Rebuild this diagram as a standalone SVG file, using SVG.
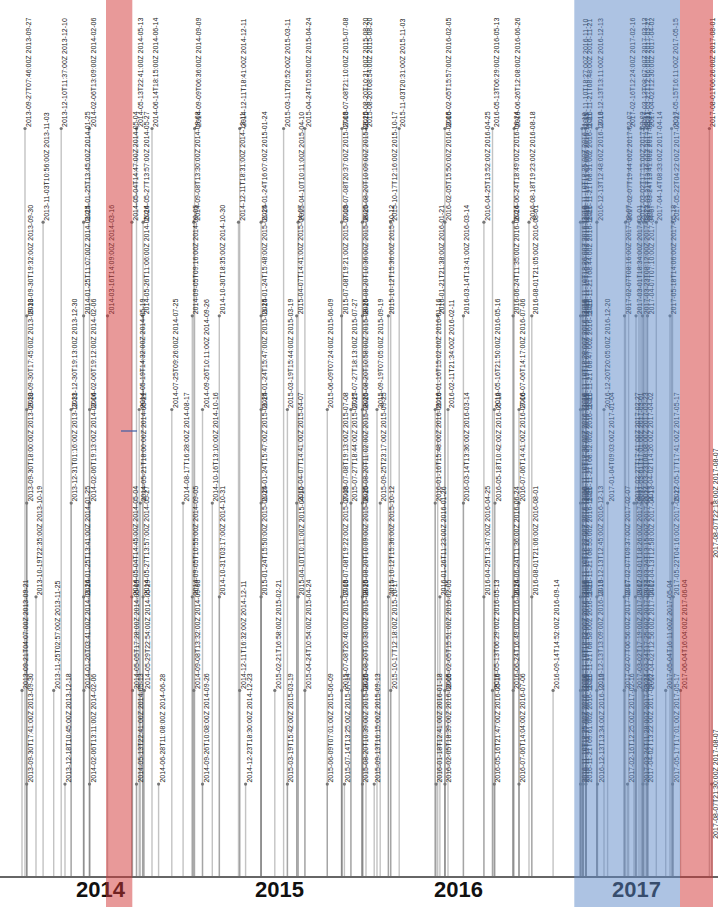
<svg xmlns="http://www.w3.org/2000/svg" width="718" height="907" viewBox="0 0 718 907">
<style>
.c line{stroke:#888;stroke-opacity:.5;stroke-width:1.4}
.n circle{fill:#777}
.n text{font-family:"Liberation Sans",Arial,sans-serif;font-size:7px;fill:#222}
.n text.mid{text-anchor:middle}
.yr{font-family:"Liberation Sans",Arial,sans-serif;font-size:22px;font-weight:bold;fill:#111}
</style>
<rect width="718" height="907" fill="#fff"/>
<g id="connectors" class="c">
<line x1="25" y1="128.5" x2="25" y2="877"/><line x1="61.2" y1="128.5" x2="61.2" y2="877"/><line x1="89.5" y1="128.5" x2="89.5" y2="877"/><line x1="136.5" y1="128.5" x2="136.5" y2="877"/><line x1="152" y1="128.5" x2="152" y2="877"/><line x1="194.6" y1="128.5" x2="194.6" y2="877"/><line x1="239.7" y1="128.5" x2="239.7" y2="877"/><line x1="283.6" y1="128.5" x2="283.6" y2="877"/><line x1="304.9" y1="128.5" x2="304.9" y2="877"/><line x1="341.7" y1="128.5" x2="341.7" y2="877"/><line x1="362.4" y1="128.5" x2="362.4" y2="877"/><line x1="366" y1="128.5" x2="366" y2="877"/><line x1="399.2" y1="128.5" x2="399.2" y2="877"/><line x1="444.9" y1="128.5" x2="444.9" y2="877"/><line x1="492.5" y1="128.5" x2="492.5" y2="877"/><line x1="514.1" y1="128.5" x2="514.1" y2="877"/><line x1="582" y1="128.5" x2="582" y2="877"/><line x1="585.5" y1="128.5" x2="585.5" y2="877"/><line x1="596.9" y1="128.5" x2="596.9" y2="877"/><line x1="628.6" y1="128.5" x2="628.6" y2="877"/><line x1="641" y1="128.5" x2="641" y2="877"/><line x1="644" y1="128.5" x2="644" y2="877"/><line x1="647.5" y1="128.5" x2="647.5" y2="877"/><line x1="671.6" y1="128.5" x2="671.6" y2="877"/><line x1="709.4" y1="128.5" x2="709.4" y2="877"/>
<line x1="43.1" y1="222.2" x2="43.1" y2="877"/><line x1="83.6" y1="222.2" x2="83.6" y2="877"/><line x1="131.9" y1="222.2" x2="131.9" y2="877"/><line x1="143.1" y1="222.2" x2="143.1" y2="877"/><line x1="193.8" y1="222.2" x2="193.8" y2="877"/><line x1="238.5" y1="222.2" x2="238.5" y2="877"/><line x1="261.1" y1="222.2" x2="261.1" y2="877"/><line x1="298.1" y1="222.2" x2="298.1" y2="877"/><line x1="341.7" y1="222.2" x2="341.7" y2="877"/><line x1="362.4" y1="222.2" x2="362.4" y2="877"/><line x1="390.7" y1="222.2" x2="390.7" y2="877"/><line x1="444.9" y1="222.2" x2="444.9" y2="877"/><line x1="483.9" y1="222.2" x2="483.9" y2="877"/><line x1="513.2" y1="222.2" x2="513.2" y2="877"/><line x1="529" y1="222.2" x2="529" y2="877"/><line x1="580.5" y1="222.2" x2="580.5" y2="877"/><line x1="583" y1="222.2" x2="583" y2="877"/><line x1="586" y1="222.2" x2="586" y2="877"/><line x1="596.9" y1="222.2" x2="596.9" y2="877"/><line x1="625.5" y1="222.2" x2="625.5" y2="877"/><line x1="639" y1="222.2" x2="639" y2="877"/><line x1="643.5" y1="222.2" x2="643.5" y2="877"/><line x1="646" y1="222.2" x2="646" y2="877"/><line x1="656.3" y1="222.2" x2="656.3" y2="877"/><line x1="672.5" y1="222.2" x2="672.5" y2="877"/>
<line x1="26.7" y1="315.8" x2="26.7" y2="877"/><line x1="83.6" y1="315.8" x2="83.6" y2="877"/><line x1="107.5" y1="315.8" x2="107.5" y2="877"/><line x1="142.6" y1="315.8" x2="142.6" y2="877"/><line x1="192.3" y1="315.8" x2="192.3" y2="877"/><line x1="219.3" y1="315.8" x2="219.3" y2="877"/><line x1="261.1" y1="315.8" x2="261.1" y2="877"/><line x1="296.7" y1="315.8" x2="296.7" y2="877"/><line x1="341.6" y1="315.8" x2="341.6" y2="877"/><line x1="362.4" y1="315.8" x2="362.4" y2="877"/><line x1="388.4" y1="315.8" x2="388.4" y2="877"/><line x1="437.7" y1="315.8" x2="437.7" y2="877"/><line x1="463.4" y1="315.8" x2="463.4" y2="877"/><line x1="513.1" y1="315.8" x2="513.1" y2="877"/><line x1="531.8" y1="315.8" x2="531.8" y2="877"/><line x1="580.5" y1="315.8" x2="580.5" y2="877"/><line x1="583" y1="315.8" x2="583" y2="877"/><line x1="586" y1="315.8" x2="586" y2="877"/><line x1="624.5" y1="315.8" x2="624.5" y2="877"/><line x1="636" y1="315.8" x2="636" y2="877"/><line x1="642.5" y1="315.8" x2="642.5" y2="877"/><line x1="647.5" y1="315.8" x2="647.5" y2="877"/><line x1="670" y1="315.8" x2="670" y2="877"/>
<line x1="26.7" y1="409.5" x2="26.7" y2="877"/><line x1="71.1" y1="409.5" x2="71.1" y2="877"/><line x1="89.6" y1="409.5" x2="89.6" y2="877"/><line x1="139.2" y1="409.5" x2="139.2" y2="877"/><line x1="171.8" y1="409.5" x2="171.8" y2="877"/><line x1="202.5" y1="409.5" x2="202.5" y2="877"/><line x1="261.1" y1="409.5" x2="261.1" y2="877"/><line x1="287.4" y1="409.5" x2="287.4" y2="877"/><line x1="327.3" y1="409.5" x2="327.3" y2="877"/><line x1="350.9" y1="409.5" x2="350.9" y2="877"/><line x1="362.4" y1="409.5" x2="362.4" y2="877"/><line x1="377" y1="409.5" x2="377" y2="877"/><line x1="435.2" y1="409.5" x2="435.2" y2="877"/><line x1="448" y1="409.5" x2="448" y2="877"/><line x1="494.3" y1="409.5" x2="494.3" y2="877"/><line x1="519" y1="409.5" x2="519" y2="877"/><line x1="580.5" y1="409.5" x2="580.5" y2="877"/><line x1="583" y1="409.5" x2="583" y2="877"/><line x1="586" y1="409.5" x2="586" y2="877"/><line x1="604" y1="409.5" x2="604" y2="877"/>
<line x1="26.7" y1="503.1" x2="26.7" y2="877"/><line x1="71.2" y1="503.1" x2="71.2" y2="877"/><line x1="89.6" y1="503.1" x2="89.6" y2="877"/><line x1="140.3" y1="503.1" x2="140.3" y2="877"/><line x1="183.1" y1="503.1" x2="183.1" y2="877"/><line x1="212.3" y1="503.1" x2="212.3" y2="877"/><line x1="261.1" y1="503.1" x2="261.1" y2="877"/><line x1="296.7" y1="503.1" x2="296.7" y2="877"/><line x1="341.6" y1="503.1" x2="341.6" y2="877"/><line x1="350.9" y1="503.1" x2="350.9" y2="877"/><line x1="362.4" y1="503.1" x2="362.4" y2="877"/><line x1="380.2" y1="503.1" x2="380.2" y2="877"/><line x1="435.2" y1="503.1" x2="435.2" y2="877"/><line x1="463.4" y1="503.1" x2="463.4" y2="877"/><line x1="495" y1="503.1" x2="495" y2="877"/><line x1="519" y1="503.1" x2="519" y2="877"/><line x1="580.5" y1="503.1" x2="580.5" y2="877"/><line x1="583" y1="503.1" x2="583" y2="877"/><line x1="586" y1="503.1" x2="586" y2="877"/><line x1="607.6" y1="503.1" x2="607.6" y2="877"/><line x1="634" y1="503.1" x2="634" y2="877"/><line x1="636.5" y1="503.1" x2="636.5" y2="877"/><line x1="642" y1="503.1" x2="642" y2="877"/><line x1="647" y1="503.1" x2="647" y2="877"/><line x1="672.6" y1="503.1" x2="672.6" y2="877"/><line x1="712" y1="503.1" x2="712" y2="877"/>
<line x1="36" y1="596.8" x2="36" y2="877"/><line x1="83.6" y1="596.8" x2="83.6" y2="877"/><line x1="131.9" y1="596.8" x2="131.9" y2="877"/><line x1="143.1" y1="596.8" x2="143.1" y2="877"/><line x1="192.3" y1="596.8" x2="192.3" y2="877"/><line x1="219.4" y1="596.8" x2="219.4" y2="877"/><line x1="261.1" y1="596.8" x2="261.1" y2="877"/><line x1="298.1" y1="596.8" x2="298.1" y2="877"/><line x1="341.6" y1="596.8" x2="341.6" y2="877"/><line x1="362.4" y1="596.8" x2="362.4" y2="877"/><line x1="388.4" y1="596.8" x2="388.4" y2="877"/><line x1="439.9" y1="596.8" x2="439.9" y2="877"/><line x1="483.9" y1="596.8" x2="483.9" y2="877"/><line x1="513.1" y1="596.8" x2="513.1" y2="877"/><line x1="531.8" y1="596.8" x2="531.8" y2="877"/><line x1="580.5" y1="596.8" x2="580.5" y2="877"/><line x1="583" y1="596.8" x2="583" y2="877"/><line x1="586" y1="596.8" x2="586" y2="877"/><line x1="596.9" y1="596.8" x2="596.9" y2="877"/><line x1="624.2" y1="596.8" x2="624.2" y2="877"/><line x1="635.5" y1="596.8" x2="635.5" y2="877"/><line x1="643" y1="596.8" x2="643" y2="877"/><line x1="648" y1="596.8" x2="648" y2="877"/><line x1="673.3" y1="596.8" x2="673.3" y2="877"/>
<line x1="22" y1="690.4" x2="22" y2="877"/><line x1="53.7" y1="690.4" x2="53.7" y2="877"/><line x1="83.9" y1="690.4" x2="83.9" y2="877"/><line x1="132.5" y1="690.4" x2="132.5" y2="877"/><line x1="144.3" y1="690.4" x2="144.3" y2="877"/><line x1="193.8" y1="690.4" x2="193.8" y2="877"/><line x1="239.7" y1="690.4" x2="239.7" y2="877"/><line x1="274.8" y1="690.4" x2="274.8" y2="877"/><line x1="304.9" y1="690.4" x2="304.9" y2="877"/><line x1="341.7" y1="690.4" x2="341.7" y2="877"/><line x1="362.4" y1="690.4" x2="362.4" y2="877"/><line x1="390.7" y1="690.4" x2="390.7" y2="877"/><line x1="444.9" y1="690.4" x2="444.9" y2="877"/><line x1="492.5" y1="690.4" x2="492.5" y2="877"/><line x1="513.2" y1="690.4" x2="513.2" y2="877"/><line x1="553.1" y1="690.4" x2="553.1" y2="877"/><line x1="580.5" y1="690.4" x2="580.5" y2="877"/><line x1="583" y1="690.4" x2="583" y2="877"/><line x1="586" y1="690.4" x2="586" y2="877"/><line x1="596.9" y1="690.4" x2="596.9" y2="877"/><line x1="624.2" y1="690.4" x2="624.2" y2="877"/><line x1="635.6" y1="690.4" x2="635.6" y2="877"/><line x1="643" y1="690.4" x2="643" y2="877"/><line x1="647.5" y1="690.4" x2="647.5" y2="877"/><line x1="665.7" y1="690.4" x2="665.7" y2="877"/><line x1="680.5" y1="690.4" x2="680.5" y2="877"/>
<line x1="26.7" y1="784.1" x2="26.7" y2="877"/><line x1="65" y1="784.1" x2="65" y2="877"/><line x1="89.5" y1="784.1" x2="89.5" y2="877"/><line x1="136.5" y1="784.1" x2="136.5" y2="877"/><line x1="158.6" y1="784.1" x2="158.6" y2="877"/><line x1="202.5" y1="784.1" x2="202.5" y2="877"/><line x1="245.6" y1="784.1" x2="245.6" y2="877"/><line x1="287.4" y1="784.1" x2="287.4" y2="877"/><line x1="327.3" y1="784.1" x2="327.3" y2="877"/><line x1="344.4" y1="784.1" x2="344.4" y2="877"/><line x1="362.4" y1="784.1" x2="362.4" y2="877"/><line x1="374.2" y1="784.1" x2="374.2" y2="877"/><line x1="436.1" y1="784.1" x2="436.1" y2="877"/><line x1="445" y1="784.1" x2="445" y2="877"/><line x1="494.3" y1="784.1" x2="494.3" y2="877"/><line x1="519" y1="784.1" x2="519" y2="877"/><line x1="580.5" y1="784.1" x2="580.5" y2="877"/><line x1="583" y1="784.1" x2="583" y2="877"/><line x1="586" y1="784.1" x2="586" y2="877"/><line x1="597.5" y1="784.1" x2="597.5" y2="877"/><line x1="627.5" y1="784.1" x2="627.5" y2="877"/><line x1="643" y1="784.1" x2="643" y2="877"/><line x1="647" y1="784.1" x2="647" y2="877"/><line x1="672.6" y1="784.1" x2="672.6" y2="877"/><line x1="711.7" y1="784.1" x2="711.7" y2="877"/>
</g>
<g class="n">
<g id="n0-1"><circle cx="25" cy="128.5" r="1.6"/><text transform="translate(31,127) rotate(-90)">2013-09-27T07:46:00Z 2013-09-27</text></g>
<g id="n0-2"><circle cx="61.2" cy="128.5" r="1.6"/><text transform="translate(67.2,127) rotate(-90)">2013-12-10T11:37:00Z 2013-12-10</text></g>
<g id="n0-3"><circle cx="89.5" cy="128.5" r="1.6"/><text transform="translate(95.5,127) rotate(-90)">2014-02-06T13:09:00Z 2014-02-06</text></g>
<g id="n0-4"><circle cx="136.5" cy="128.5" r="1.6"/><text transform="translate(142.5,127) rotate(-90)">2014-05-13T22:41:00Z 2014-05-13</text></g>
<g id="n0-5"><circle cx="152" cy="128.5" r="1.6"/><text transform="translate(158,127) rotate(-90)">2014-06-14T18:15:00Z 2014-06-14</text></g>
<g id="n0-6"><circle cx="194.6" cy="128.5" r="1.6"/><text transform="translate(200.6,127) rotate(-90)">2014-09-09T06:36:00Z 2014-09-09</text></g>
<g id="n0-7"><circle cx="239.7" cy="128.5" r="1.6"/><text transform="translate(245.7,127) rotate(-90)">2014-12-11T18:41:00Z 2014-12-11</text></g>
<g id="n0-8"><circle cx="283.6" cy="128.5" r="1.6"/><text transform="translate(289.6,127) rotate(-90)">2015-03-11T20:52:00Z 2015-03-11</text></g>
<g id="n0-9"><circle cx="304.9" cy="128.5" r="1.6"/><text transform="translate(310.9,127) rotate(-90)">2015-04-24T10:55:00Z 2015-04-24</text></g>
<g id="n0-10"><circle cx="341.7" cy="128.5" r="1.6"/><text transform="translate(347.7,127) rotate(-90)">2015-07-08T21:10:00Z 2015-07-08</text></g>
<g id="n0-11"><circle cx="362.4" cy="128.5" r="1.6"/><text transform="translate(368.4,127) rotate(-90)">2015-08-20T10:31:00Z 2015-08-20</text></g>
<g id="n0-12"><circle cx="366" cy="128.5" r="1.6"/><text transform="translate(372,127) rotate(-90)">2015-08-20T08:54:00Z 2015-08-20</text></g>
<g id="n0-13"><circle cx="399.2" cy="128.5" r="1.6"/><text transform="translate(405.2,127) rotate(-90)">2015-11-03T20:31:00Z 2015-11-03</text></g>
<g id="n0-14"><circle cx="444.9" cy="128.5" r="1.6"/><text transform="translate(450.9,127) rotate(-90)">2016-02-05T15:57:00Z 2016-02-05</text></g>
<g id="n0-15"><circle cx="492.5" cy="128.5" r="1.6"/><text transform="translate(498.5,127) rotate(-90)">2016-05-13T06:29:00Z 2016-05-13</text></g>
<g id="n0-16"><circle cx="514.1" cy="128.5" r="1.6"/><text transform="translate(520.1,127) rotate(-90)">2016-06-26T12:08:00Z 2016-06-26</text></g>
<g id="n0-17"><circle cx="582" cy="128.5" r="1.6"/><text transform="translate(588,127) rotate(-90)">2016-11-10T18:27:00Z 2016-11-10</text></g>
<g id="n0-18"><circle cx="585.5" cy="128.5" r="1.6"/><text transform="translate(591.5,127) rotate(-90)">2016-11-21T08:48:00Z 2016-11-21</text></g>
<g id="n0-19"><circle cx="596.9" cy="128.5" r="1.6"/><text transform="translate(602.9,127) rotate(-90)">2016-12-13T13:11:00Z 2016-12-13</text></g>
<g id="n0-20"><circle cx="628.6" cy="128.5" r="1.6"/><text transform="translate(634.6,127) rotate(-90)">2017-02-16T12:24:00Z 2017-02-16</text></g>
<g id="n0-21"><circle cx="641" cy="128.5" r="1.6"/><text transform="translate(647,127) rotate(-90)">2017-03-12T08:07:00Z 2017-03-12</text></g>
<g id="n0-22"><circle cx="644" cy="128.5" r="1.6"/><text transform="translate(650,127) rotate(-90)">2017-03-27T12:06:00Z 2017-03-27</text></g>
<g id="n0-23"><circle cx="647.5" cy="128.5" r="1.6"/><text transform="translate(653.5,127) rotate(-90)">2017-04-02T12:30:00Z 2017-04-02</text></g>
<g id="n0-24"><circle cx="671.6" cy="128.5" r="1.6"/><text transform="translate(677.6,127) rotate(-90)">2017-05-15T16:11:00Z 2017-05-15</text></g>
<g id="n0-25"><circle cx="709.4" cy="128.5" r="1.6"/><text transform="translate(715.4,127) rotate(-90)">2017-08-01T06:26:00Z 2017-08-01</text></g>

<g id="n1-1"><circle cx="43.1" cy="222.2" r="1.6"/><text transform="translate(49.1,220.7) rotate(-90)">2013-11-03T10:56:00Z 2013-11-03</text></g>
<g id="n1-2"><circle cx="83.6" cy="222.2" r="1.6"/><text transform="translate(89.6,220.7) rotate(-90)">2014-01-25T13:45:00Z 2014-01-25</text></g>
<g id="n1-3"><circle cx="131.9" cy="222.2" r="1.6"/><text transform="translate(137.9,220.7) rotate(-90)">2014-05-04T14:47:00Z 2014-05-04</text></g>
<g id="n1-4"><circle cx="143.1" cy="222.2" r="1.6"/><text transform="translate(149.1,220.7) rotate(-90)">2014-05-27T13:57:00Z 2014-05-27</text></g>
<g id="n1-5"><circle cx="193.8" cy="222.2" r="1.6"/><text transform="translate(199.8,220.7) rotate(-90)">2014-09-08T13:30:00Z 2014-09-08</text></g>
<g id="n1-6"><circle cx="238.5" cy="222.2" r="1.6"/><text transform="translate(244.5,220.7) rotate(-90)">2014-12-11T18:31:00Z 2014-12-11</text></g>
<g id="n1-7"><circle cx="261.1" cy="222.2" r="1.6"/><text transform="translate(267.1,220.7) rotate(-90)">2015-01-24T16:07:00Z 2015-01-24</text></g>
<g id="n1-8"><circle cx="298.1" cy="222.2" r="1.6"/><text transform="translate(304.1,220.7) rotate(-90)">2015-04-10T10:11:00Z 2015-04-10</text></g>
<g id="n1-9"><circle cx="341.7" cy="222.2" r="1.6"/><text transform="translate(347.7,220.7) rotate(-90)">2015-07-08T20:37:00Z 2015-07-08</text></g>
<g id="n1-10"><circle cx="362.4" cy="222.2" r="1.6"/><text transform="translate(368.4,220.7) rotate(-90)">2015-08-20T10:09:00Z 2015-08-20</text></g>
<g id="n1-11"><circle cx="390.7" cy="222.2" r="1.6"/><text transform="translate(396.7,220.7) rotate(-90)">2015-10-17T12:16:00Z 2015-10-17</text></g>
<g id="n1-12"><circle cx="444.9" cy="222.2" r="1.6"/><text transform="translate(450.9,220.7) rotate(-90)">2016-02-05T15:50:00Z 2016-02-05</text></g>
<g id="n1-13"><circle cx="483.9" cy="222.2" r="1.6"/><text transform="translate(489.9,220.7) rotate(-90)">2016-04-25T13:52:00Z 2016-04-25</text></g>
<g id="n1-14"><circle cx="513.2" cy="222.2" r="1.6"/><text transform="translate(519.2,220.7) rotate(-90)">2016-06-24T18:49:00Z 2016-06-24</text></g>
<g id="n1-15"><circle cx="529" cy="222.2" r="1.6"/><text transform="translate(535,220.7) rotate(-90)">2016-08-18T19:23:00Z 2016-08-18</text></g>
<g id="n1-16"><circle cx="580.5" cy="222.2" r="1.6"/><text transform="translate(586.5,220.7) rotate(-90)">2016-11-10T18:25:00Z 2016-11-10</text></g>
<g id="n1-17"><circle cx="583" cy="222.2" r="1.6"/><text transform="translate(589,220.7) rotate(-90)">2016-11-15T11:02:00Z 2016-11-15</text></g>
<g id="n1-18"><circle cx="586" cy="222.2" r="1.6"/><text transform="translate(592,220.7) rotate(-90)">2016-11-21T08:31:00Z 2016-11-21</text></g>
<g id="n1-19"><circle cx="596.9" cy="222.2" r="1.6"/><text transform="translate(602.9,220.7) rotate(-90)">2016-12-13T12:48:00Z 2016-12-13</text></g>
<g id="n1-20"><circle cx="625.5" cy="222.2" r="1.6"/><text transform="translate(631.5,220.7) rotate(-90)">2017-02-07T19:44:00Z 2017-02-07</text></g>
<g id="n1-21"><circle cx="639" cy="222.2" r="1.6"/><text transform="translate(645,220.7) rotate(-90)">2017-03-02T17:15:00Z 2017-03-02</text></g>
<g id="n1-22"><circle cx="643.5" cy="222.2" r="1.6"/><text transform="translate(649.5,220.7) rotate(-90)">2017-03-21T13:46:00Z 2017-03-21</text></g>
<g id="n1-23"><circle cx="646" cy="222.2" r="1.6"/><text transform="translate(652,220.7) rotate(-90)">2017-03-24T13:41:00Z 2017-03-24</text></g>
<g id="n1-24"><circle cx="656.3" cy="222.2" r="1.6"/><text transform="translate(662.3,220.7) rotate(-90)">2017-04-14T08:33:00Z 2017-04-14</text></g>
<g id="n1-25"><circle cx="672.5" cy="222.2" r="1.6"/><text transform="translate(678.5,220.7) rotate(-90)">2017-05-22T04:22:00Z 2017-05-22</text></g>

<g id="n2-1"><circle cx="26.7" cy="315.8" r="1.6"/><text transform="translate(32.7,314.3) rotate(-90)">2013-09-30T19:32:00Z 2013-09-30</text></g>
<g id="n2-2"><circle cx="83.6" cy="315.8" r="1.6"/><text transform="translate(89.6,314.3) rotate(-90)">2014-01-25T11:07:00Z 2014-01-25</text></g>
<g id="n2-3"><circle cx="107.5" cy="315.8" r="1.6"/><text transform="translate(113.5,314.3) rotate(-90)">2014-03-16T14:09:00Z 2014-03-16</text></g>
<g id="n2-4"><circle cx="142.6" cy="315.8" r="1.6"/><text transform="translate(148.6,314.3) rotate(-90)">2014-05-26T11:06:00Z 2014-05-26</text></g>
<g id="n2-5"><circle cx="192.3" cy="315.8" r="1.6"/><text transform="translate(198.3,314.3) rotate(-90)">2014-09-05T09:16:00Z 2014-09-05</text></g>
<g id="n2-6"><circle cx="219.3" cy="315.8" r="1.6"/><text transform="translate(225.3,314.3) rotate(-90)">2014-10-30T18:35:00Z 2014-10-30</text></g>
<g id="n2-7"><circle cx="261.1" cy="315.8" r="1.6"/><text transform="translate(267.1,314.3) rotate(-90)">2015-01-24T15:48:00Z 2015-01-24</text></g>
<g id="n2-8"><circle cx="296.7" cy="315.8" r="1.6"/><text transform="translate(302.7,314.3) rotate(-90)">2015-04-07T14:41:00Z 2015-04-07</text></g>
<g id="n2-9"><circle cx="341.6" cy="315.8" r="1.6"/><text transform="translate(347.6,314.3) rotate(-90)">2015-07-08T19:21:00Z 2015-07-08</text></g>
<g id="n2-10"><circle cx="362.4" cy="315.8" r="1.6"/><text transform="translate(368.4,314.3) rotate(-90)">2015-08-20T10:36:00Z 2015-08-20</text></g>
<g id="n2-11"><circle cx="388.4" cy="315.8" r="1.6"/><text transform="translate(394.4,314.3) rotate(-90)">2015-10-12T15:36:00Z 2015-10-12</text></g>
<g id="n2-12"><circle cx="437.7" cy="315.8" r="1.6"/><text transform="translate(443.7,314.3) rotate(-90)">2016-01-21T21:38:00Z 2016-01-21</text></g>
<g id="n2-13"><circle cx="463.4" cy="315.8" r="1.6"/><text transform="translate(469.4,314.3) rotate(-90)">2016-03-14T13:41:00Z 2016-03-14</text></g>
<g id="n2-14"><circle cx="513.1" cy="315.8" r="1.6"/><text transform="translate(519.1,314.3) rotate(-90)">2016-06-24T11:35:00Z 2016-06-24</text></g>
<g id="n2-15"><circle cx="531.8" cy="315.8" r="1.6"/><text transform="translate(537.8,314.3) rotate(-90)">2016-08-01T21:05:00Z 2016-08-01</text></g>
<g id="n2-16"><circle cx="580.5" cy="315.8" r="1.6"/><text transform="translate(586.5,314.3) rotate(-90)">2016-11-10T18:26:00Z 2016-11-10</text></g>
<g id="n2-17"><circle cx="583" cy="315.8" r="1.6"/><text transform="translate(589,314.3) rotate(-90)">2016-11-15T10:59:00Z 2016-11-15</text></g>
<g id="n2-18"><circle cx="586" cy="315.8" r="1.6"/><text transform="translate(592,314.3) rotate(-90)">2016-11-21T08:44:00Z 2016-11-21</text></g>
<g id="n2-19"><circle cx="624.5" cy="315.8" r="1.6"/><text transform="translate(630.5,314.3) rotate(-90)">2017-02-07T08:16:00Z 2017-02-07</text></g>
<g id="n2-20"><circle cx="636" cy="315.8" r="1.6"/><text transform="translate(642,314.3) rotate(-90)">2017-03-01T18:34:00Z 2017-03-01</text></g>
<g id="n2-21"><circle cx="642.5" cy="315.8" r="1.6"/><text transform="translate(648.5,314.3) rotate(-90)">2017-03-23T08:12:00Z 2017-03-23</text></g>
<g id="n2-22"><circle cx="647.5" cy="315.8" r="1.6"/><text transform="translate(653.5,314.3) rotate(-90)">2017-04-07T07:10:00Z 2017-04-07</text></g>
<g id="n2-23"><circle cx="670" cy="315.8" r="1.6"/><text transform="translate(676,314.3) rotate(-90)">2017-05-18T14:06:00Z 2017-05-18</text></g>

<g id="n3-1"><circle cx="26.7" cy="409.5" r="1.6"/><text transform="translate(32.7,408) rotate(-90)">2013-09-30T17:45:00Z 2013-09-30</text></g>
<g id="n3-2"><circle cx="71.1" cy="409.5" r="1.6"/><text transform="translate(77.1,408) rotate(-90)">2013-12-30T19:13:00Z 2013-12-30</text></g>
<g id="n3-3"><circle cx="89.6" cy="409.5" r="1.6"/><text transform="translate(95.6,408) rotate(-90)">2014-02-06T19:12:00Z 2014-02-06</text></g>
<g id="n3-4"><circle cx="139.2" cy="409.5" r="1.6"/><text transform="translate(145.2,408) rotate(-90)">2014-05-19T14:32:00Z 2014-05-19</text></g>
<g id="n3-5"><circle cx="171.8" cy="409.5" r="1.6"/><text transform="translate(177.8,408) rotate(-90)">2014-07-25T09:26:00Z 2014-07-25</text></g>
<g id="n3-6"><circle cx="202.5" cy="409.5" r="1.6"/><text transform="translate(208.5,408) rotate(-90)">2014-09-26T10:11:00Z 2014-09-26</text></g>
<g id="n3-7"><circle cx="261.1" cy="409.5" r="1.6"/><text transform="translate(267.1,408) rotate(-90)">2015-01-24T15:47:00Z 2015-01-24</text></g>
<g id="n3-8"><circle cx="287.4" cy="409.5" r="1.6"/><text transform="translate(293.4,408) rotate(-90)">2015-03-19T15:44:00Z 2015-03-19</text></g>
<g id="n3-9"><circle cx="327.3" cy="409.5" r="1.6"/><text transform="translate(333.3,408) rotate(-90)">2015-06-09T07:24:00Z 2015-06-09</text></g>
<g id="n3-10"><circle cx="350.9" cy="409.5" r="1.6"/><text transform="translate(356.9,408) rotate(-90)">2015-07-27T18:13:00Z 2015-07-27</text></g>
<g id="n3-11"><circle cx="362.4" cy="409.5" r="1.6"/><text transform="translate(368.4,408) rotate(-90)">2015-08-20T10:58:00Z 2015-08-20</text></g>
<g id="n3-12"><circle cx="377" cy="409.5" r="1.6"/><text transform="translate(383,408) rotate(-90)">2015-09-19T07:05:00Z 2015-09-19</text></g>
<g id="n3-13"><circle cx="435.2" cy="409.5" r="1.6"/><text transform="translate(441.2,408) rotate(-90)">2016-01-16T15:02:00Z 2016-01-16</text></g>
<g id="n3-14"><circle cx="448" cy="409.5" r="1.6"/><text transform="translate(454,408) rotate(-90)">2016-02-11T21:34:00Z 2016-02-11</text></g>
<g id="n3-15"><circle cx="494.3" cy="409.5" r="1.6"/><text transform="translate(500.3,408) rotate(-90)">2016-05-16T21:50:00Z 2016-05-16</text></g>
<g id="n3-16"><circle cx="519" cy="409.5" r="1.6"/><text transform="translate(525,408) rotate(-90)">2016-07-06T14:17:00Z 2016-07-06</text></g>
<g id="n3-17"><circle cx="580.5" cy="409.5" r="1.6"/><text transform="translate(586.5,408) rotate(-90)">2016-11-10T18:29:00Z 2016-11-10</text></g>
<g id="n3-18"><circle cx="583" cy="409.5" r="1.6"/><text transform="translate(589,408) rotate(-90)">2016-11-15T11:05:00Z 2016-11-15</text></g>
<g id="n3-19"><circle cx="586" cy="409.5" r="1.6"/><text transform="translate(592,408) rotate(-90)">2016-11-21T08:47:00Z 2016-11-21</text></g>
<g id="n3-20"><circle cx="604" cy="409.5" r="1.6"/><text transform="translate(610,408) rotate(-90)">2016-12-20T20:05:00Z 2016-12-20</text></g>

<g id="n4-1"><circle cx="26.7" cy="503.1" r="1.6"/><text transform="translate(32.7,501.6) rotate(-90)">2013-09-30T18:00:00Z 2013-09-30</text></g>
<g id="n4-2"><circle cx="71.2" cy="503.1" r="1.6"/><text transform="translate(77.2,501.6) rotate(-90)">2013-12-31T01:16:00Z 2013-12-31</text></g>
<g id="n4-3"><circle cx="89.6" cy="503.1" r="1.6"/><text transform="translate(95.6,501.6) rotate(-90)">2014-02-06T19:13:00Z 2014-02-06</text></g>
<g id="n4-4"><circle cx="140.3" cy="503.1" r="1.6"/><text transform="translate(146.3,501.6) rotate(-90)">2014-05-21T18:00:00Z 2014-05-21</text></g>
<g id="n4-5"><circle cx="183.1" cy="503.1" r="1.6"/><text transform="translate(189.1,501.6) rotate(-90)">2014-08-17T16:28:00Z 2014-08-17</text></g>
<g id="n4-6"><circle cx="212.3" cy="503.1" r="1.6"/><text transform="translate(218.3,501.6) rotate(-90)">2014-10-16T13:10:00Z 2014-10-16</text></g>
<g id="n4-7"><circle cx="261.1" cy="503.1" r="1.6"/><text transform="translate(267.1,501.6) rotate(-90)">2015-01-24T15:47:00Z 2015-01-24</text></g>
<g id="n4-8"><circle cx="296.7" cy="503.1" r="1.6"/><text transform="translate(302.7,501.6) rotate(-90)">2015-04-07T14:41:00Z 2015-04-07</text></g>
<g id="n4-9"><circle cx="341.6" cy="503.1" r="1.6"/><text transform="translate(347.6,501.6) rotate(-90)">2015-07-08T19:13:00Z 2015-07-08</text></g>
<g id="n4-10"><circle cx="350.9" cy="503.1" r="1.6"/><text transform="translate(356.9,501.6) rotate(-90)">2015-07-27T18:44:00Z 2015-07-27</text></g>
<g id="n4-11"><circle cx="362.4" cy="503.1" r="1.6"/><text transform="translate(368.4,501.6) rotate(-90)">2015-08-20T11:02:00Z 2015-08-20</text></g>
<g id="n4-12"><circle cx="380.2" cy="503.1" r="1.6"/><text transform="translate(386.2,501.6) rotate(-90)">2015-09-25T23:17:00Z 2015-09-25</text></g>
<g id="n4-13"><circle cx="435.2" cy="503.1" r="1.6"/><text transform="translate(441.2,501.6) rotate(-90)">2016-01-16T15:48:00Z 2016-01-16</text></g>
<g id="n4-14"><circle cx="463.4" cy="503.1" r="1.6"/><text transform="translate(469.4,501.6) rotate(-90)">2016-03-14T13:36:00Z 2016-03-14</text></g>
<g id="n4-15"><circle cx="495" cy="503.1" r="1.6"/><text transform="translate(501,501.6) rotate(-90)">2016-05-18T10:42:00Z 2016-05-18</text></g>
<g id="n4-16"><circle cx="519" cy="503.1" r="1.6"/><text transform="translate(525,501.6) rotate(-90)">2016-07-06T14:41:00Z 2016-07-06</text></g>
<g id="n4-17"><circle cx="580.5" cy="503.1" r="1.6"/><text transform="translate(586.5,501.6) rotate(-90)">2016-11-10T18:30:00Z 2016-11-10</text></g>
<g id="n4-18"><circle cx="583" cy="503.1" r="1.6"/><text transform="translate(589,501.6) rotate(-90)">2016-11-15T11:09:00Z 2016-11-15</text></g>
<g id="n4-19"><circle cx="586" cy="503.1" r="1.6"/><text transform="translate(592,501.6) rotate(-90)">2016-11-21T08:52:00Z 2016-11-21</text></g>
<g id="n4-20"><circle cx="607.6" cy="503.1" r="1.6"/><text transform="translate(613.6,501.6) rotate(-90)">2017-01-04T09:03:00Z 2017-01-04</text></g>
<g id="n4-21"><circle cx="634" cy="503.1" r="1.6"/><text transform="translate(640,501.6) rotate(-90)">2017-02-27T17:41:00Z 2017-02-27</text></g>
<g id="n4-22"><circle cx="636.5" cy="503.1" r="1.6"/><text transform="translate(642.5,501.6) rotate(-90)">2017-03-01T17:01:00Z 2017-03-01</text></g>
<g id="n4-23"><circle cx="642" cy="503.1" r="1.6"/><text transform="translate(648,501.6) rotate(-90)">2017-03-23T08:08:00Z 2017-03-23</text></g>
<g id="n4-24"><circle cx="647" cy="503.1" r="1.6"/><text transform="translate(653,501.6) rotate(-90)">2017-04-02T14:26:00Z 2017-04-02</text></g>
<g id="n4-25"><circle cx="672.6" cy="503.1" r="1.6"/><text transform="translate(678.6,501.6) rotate(-90)">2017-05-17T17:41:00Z 2017-05-17</text></g>
<g id="n4-26"><circle cx="712" cy="503.1" r="1.6"/><text class="mid" transform="translate(718,503.1) rotate(-90)">2017-08-07T22:18:00Z 2017-08-07</text></g>

<g id="n5-1"><circle cx="36" cy="596.8" r="1.6"/><text transform="translate(42,595.3) rotate(-90)">2013-10-19T22:35:00Z 2013-10-19</text></g>
<g id="n5-2"><circle cx="83.6" cy="596.8" r="1.6"/><text transform="translate(89.6,595.3) rotate(-90)">2014-01-25T13:41:00Z 2014-01-25</text></g>
<g id="n5-3"><circle cx="131.9" cy="596.8" r="1.6"/><text transform="translate(137.9,595.3) rotate(-90)">2014-05-04T14:45:00Z 2014-05-04</text></g>
<g id="n5-4"><circle cx="143.1" cy="596.8" r="1.6"/><text transform="translate(149.1,595.3) rotate(-90)">2014-05-27T13:57:00Z 2014-05-27</text></g>
<g id="n5-5"><circle cx="192.3" cy="596.8" r="1.6"/><text transform="translate(198.3,595.3) rotate(-90)">2014-09-05T10:55:00Z 2014-09-05</text></g>
<g id="n5-6"><circle cx="219.4" cy="596.8" r="1.6"/><text transform="translate(225.4,595.3) rotate(-90)">2014-10-31T03:17:00Z 2014-10-31</text></g>
<g id="n5-7"><circle cx="261.1" cy="596.8" r="1.6"/><text transform="translate(267.1,595.3) rotate(-90)">2015-01-24T15:50:00Z 2015-01-24</text></g>
<g id="n5-8"><circle cx="298.1" cy="596.8" r="1.6"/><text transform="translate(304.1,595.3) rotate(-90)">2015-04-10T10:11:00Z 2015-04-10</text></g>
<g id="n5-9"><circle cx="341.6" cy="596.8" r="1.6"/><text transform="translate(347.6,595.3) rotate(-90)">2015-07-08T19:22:00Z 2015-07-08</text></g>
<g id="n5-10"><circle cx="362.4" cy="596.8" r="1.6"/><text transform="translate(368.4,595.3) rotate(-90)">2015-08-20T10:09:00Z 2015-08-20</text></g>
<g id="n5-11"><circle cx="388.4" cy="596.8" r="1.6"/><text transform="translate(394.4,595.3) rotate(-90)">2015-10-12T15:36:00Z 2015-10-12</text></g>
<g id="n5-12"><circle cx="439.9" cy="596.8" r="1.6"/><text transform="translate(445.9,595.3) rotate(-90)">2016-01-26T11:23:00Z 2016-01-26</text></g>
<g id="n5-13"><circle cx="483.9" cy="596.8" r="1.6"/><text transform="translate(489.9,595.3) rotate(-90)">2016-04-25T13:47:00Z 2016-04-25</text></g>
<g id="n5-14"><circle cx="513.1" cy="596.8" r="1.6"/><text transform="translate(519.1,595.3) rotate(-90)">2016-06-24T11:36:00Z 2016-06-24</text></g>
<g id="n5-15"><circle cx="531.8" cy="596.8" r="1.6"/><text transform="translate(537.8,595.3) rotate(-90)">2016-08-01T21:06:00Z 2016-08-01</text></g>
<g id="n5-16"><circle cx="580.5" cy="596.8" r="1.6"/><text transform="translate(586.5,595.3) rotate(-90)">2016-11-10T18:32:00Z 2016-11-10</text></g>
<g id="n5-17"><circle cx="583" cy="596.8" r="1.6"/><text transform="translate(589,595.3) rotate(-90)">2016-11-15T11:12:00Z 2016-11-15</text></g>
<g id="n5-18"><circle cx="586" cy="596.8" r="1.6"/><text transform="translate(592,595.3) rotate(-90)">2016-11-21T08:55:00Z 2016-11-21</text></g>
<g id="n5-19"><circle cx="596.9" cy="596.8" r="1.6"/><text transform="translate(602.9,595.3) rotate(-90)">2016-12-13T12:45:00Z 2016-12-13</text></g>
<g id="n5-20"><circle cx="624.2" cy="596.8" r="1.6"/><text transform="translate(630.2,595.3) rotate(-90)">2017-02-07T09:37:00Z 2017-02-07</text></g>
<g id="n5-21"><circle cx="635.5" cy="596.8" r="1.6"/><text transform="translate(641.5,595.3) rotate(-90)">2017-03-01T18:26:00Z 2017-03-01</text></g>
<g id="n5-22"><circle cx="643" cy="596.8" r="1.6"/><text transform="translate(649,595.3) rotate(-90)">2017-03-24T13:15:00Z 2017-03-24</text></g>
<g id="n5-23"><circle cx="648" cy="596.8" r="1.6"/><text transform="translate(654,595.3) rotate(-90)">2017-04-13T12:58:00Z 2017-04-13</text></g>
<g id="n5-24"><circle cx="673.3" cy="596.8" r="1.6"/><text transform="translate(679.3,595.3) rotate(-90)">2017-05-22T04:16:00Z 2017-05-22</text></g>

<g id="n6-1"><circle cx="22" cy="690.4" r="1.6"/><text transform="translate(28,688.9) rotate(-90)">2013-09-21T04:07:00Z 2013-09-21</text></g>
<g id="n6-2"><circle cx="53.7" cy="690.4" r="1.6"/><text transform="translate(59.7,688.9) rotate(-90)">2013-11-25T02:57:00Z 2013-11-25</text></g>
<g id="n6-3"><circle cx="83.9" cy="690.4" r="1.6"/><text transform="translate(89.9,688.9) rotate(-90)">2014-01-26T03:41:00Z 2014-01-26</text></g>
<g id="n6-4"><circle cx="132.5" cy="690.4" r="1.6"/><text transform="translate(138.5,688.9) rotate(-90)">2014-05-05T17:28:00Z 2014-05-05</text></g>
<g id="n6-5"><circle cx="144.3" cy="690.4" r="1.6"/><text transform="translate(150.3,688.9) rotate(-90)">2014-05-29T22:54:00Z 2014-05-29</text></g>
<g id="n6-6"><circle cx="193.8" cy="690.4" r="1.6"/><text transform="translate(199.8,688.9) rotate(-90)">2014-09-08T13:32:00Z 2014-09-08</text></g>
<g id="n6-7"><circle cx="239.7" cy="690.4" r="1.6"/><text transform="translate(245.7,688.9) rotate(-90)">2014-12-11T16:32:00Z 2014-12-11</text></g>
<g id="n6-8"><circle cx="274.8" cy="690.4" r="1.6"/><text transform="translate(280.8,688.9) rotate(-90)">2015-02-21T16:58:00Z 2015-02-21</text></g>
<g id="n6-9"><circle cx="304.9" cy="690.4" r="1.6"/><text transform="translate(310.9,688.9) rotate(-90)">2015-04-24T10:54:00Z 2015-04-24</text></g>
<g id="n6-10"><circle cx="341.7" cy="690.4" r="1.6"/><text transform="translate(347.7,688.9) rotate(-90)">2015-07-08T20:46:00Z 2015-07-08</text></g>
<g id="n6-11"><circle cx="362.4" cy="690.4" r="1.6"/><text transform="translate(368.4,688.9) rotate(-90)">2015-08-20T10:33:00Z 2015-08-20</text></g>
<g id="n6-12"><circle cx="390.7" cy="690.4" r="1.6"/><text transform="translate(396.7,688.9) rotate(-90)">2015-10-17T12:18:00Z 2015-10-17</text></g>
<g id="n6-13"><circle cx="444.9" cy="690.4" r="1.6"/><text transform="translate(450.9,688.9) rotate(-90)">2016-02-05T15:51:00Z 2016-02-05</text></g>
<g id="n6-14"><circle cx="492.5" cy="690.4" r="1.6"/><text transform="translate(498.5,688.9) rotate(-90)">2016-05-13T06:29:00Z 2016-05-13</text></g>
<g id="n6-15"><circle cx="513.2" cy="690.4" r="1.6"/><text transform="translate(519.2,688.9) rotate(-90)">2016-06-24T16:49:00Z 2016-06-24</text></g>
<g id="n6-16"><circle cx="553.1" cy="690.4" r="1.6"/><text transform="translate(559.1,688.9) rotate(-90)">2016-09-14T14:52:00Z 2016-09-14</text></g>
<g id="n6-17"><circle cx="580.5" cy="690.4" r="1.6"/><text transform="translate(586.5,688.9) rotate(-90)">2016-11-10T18:33:00Z 2016-11-10</text></g>
<g id="n6-18"><circle cx="583" cy="690.4" r="1.6"/><text transform="translate(589,688.9) rotate(-90)">2016-11-15T11:14:00Z 2016-11-15</text></g>
<g id="n6-19"><circle cx="586" cy="690.4" r="1.6"/><text transform="translate(592,688.9) rotate(-90)">2016-11-21T08:58:00Z 2016-11-21</text></g>
<g id="n6-20"><circle cx="596.9" cy="690.4" r="1.6"/><text transform="translate(602.9,688.9) rotate(-90)">2016-12-13T13:09:00Z 2016-12-13</text></g>
<g id="n6-21"><circle cx="624.2" cy="690.4" r="1.6"/><text transform="translate(630.2,688.9) rotate(-90)">2017-02-07T06:56:00Z 2017-02-07</text></g>
<g id="n6-22"><circle cx="635.6" cy="690.4" r="1.6"/><text transform="translate(641.6,688.9) rotate(-90)">2017-03-02T17:19:00Z 2017-03-02</text></g>
<g id="n6-23"><circle cx="643" cy="690.4" r="1.6"/><text transform="translate(649,688.9) rotate(-90)">2017-03-24T17:25:00Z 2017-03-24</text></g>
<g id="n6-24"><circle cx="647.5" cy="690.4" r="1.6"/><text transform="translate(653.5,688.9) rotate(-90)">2017-04-02T12:56:00Z 2017-04-02</text></g>
<g id="n6-25"><circle cx="665.7" cy="690.4" r="1.6"/><text transform="translate(671.7,688.9) rotate(-90)">2017-05-04T16:11:00Z 2017-05-04</text></g>
<g id="n6-26"><circle cx="680.5" cy="690.4" r="1.6"/><text transform="translate(686.5,688.9) rotate(-90)">2017-06-04T16:04:00Z 2017-06-04</text></g>

<g id="n7-1"><circle cx="26.7" cy="784.1" r="1.6"/><text transform="translate(32.7,782.6) rotate(-90)">2013-09-30T17:41:00Z 2013-09-30</text></g>
<g id="n7-2"><circle cx="65" cy="784.1" r="1.6"/><text transform="translate(71,782.6) rotate(-90)">2013-12-18T10:45:00Z 2013-12-18</text></g>
<g id="n7-3"><circle cx="89.5" cy="784.1" r="1.6"/><text transform="translate(95.5,782.6) rotate(-90)">2014-02-06T13:11:00Z 2014-02-06</text></g>
<g id="n7-4"><circle cx="136.5" cy="784.1" r="1.6"/><text transform="translate(142.5,782.6) rotate(-90)">2014-05-13T22:41:00Z 2014-05-13</text></g>
<g id="n7-5"><circle cx="158.6" cy="784.1" r="1.6"/><text transform="translate(164.6,782.6) rotate(-90)">2014-06-28T11:08:00Z 2014-06-28</text></g>
<g id="n7-6"><circle cx="202.5" cy="784.1" r="1.6"/><text transform="translate(208.5,782.6) rotate(-90)">2014-09-26T10:08:00Z 2014-09-26</text></g>
<g id="n7-7"><circle cx="245.6" cy="784.1" r="1.6"/><text transform="translate(251.6,782.6) rotate(-90)">2014-12-23T18:30:00Z 2014-12-23</text></g>
<g id="n7-8"><circle cx="287.4" cy="784.1" r="1.6"/><text transform="translate(293.4,782.6) rotate(-90)">2015-03-19T15:42:00Z 2015-03-19</text></g>
<g id="n7-9"><circle cx="327.3" cy="784.1" r="1.6"/><text transform="translate(333.3,782.6) rotate(-90)">2015-06-09T07:01:00Z 2015-06-09</text></g>
<g id="n7-10"><circle cx="344.4" cy="784.1" r="1.6"/><text transform="translate(350.4,782.6) rotate(-90)">2015-07-14T13:25:00Z 2015-07-14</text></g>
<g id="n7-11"><circle cx="362.4" cy="784.1" r="1.6"/><text transform="translate(368.4,782.6) rotate(-90)">2015-08-20T10:39:00Z 2015-08-20</text></g>
<g id="n7-12"><circle cx="374.2" cy="784.1" r="1.6"/><text transform="translate(380.2,782.6) rotate(-90)">2015-09-13T16:15:00Z 2015-09-13</text></g>
<g id="n7-13"><circle cx="436.1" cy="784.1" r="1.6"/><text transform="translate(442.1,782.6) rotate(-90)">2016-01-18T12:41:00Z 2016-01-18</text></g>
<g id="n7-14"><circle cx="445" cy="784.1" r="1.6"/><text transform="translate(451,782.6) rotate(-90)">2016-02-05T18:39:00Z 2016-02-05</text></g>
<g id="n7-15"><circle cx="494.3" cy="784.1" r="1.6"/><text transform="translate(500.3,782.6) rotate(-90)">2016-05-16T21:47:00Z 2016-05-16</text></g>
<g id="n7-16"><circle cx="519" cy="784.1" r="1.6"/><text transform="translate(525,782.6) rotate(-90)">2016-07-06T14:04:00Z 2016-07-06</text></g>
<g id="n7-17"><circle cx="580.5" cy="784.1" r="1.6"/><text transform="translate(586.5,782.6) rotate(-90)">2016-11-10T18:35:00Z 2016-11-10</text></g>
<g id="n7-18"><circle cx="583" cy="784.1" r="1.6"/><text transform="translate(589,782.6) rotate(-90)">2016-11-15T11:17:00Z 2016-11-15</text></g>
<g id="n7-19"><circle cx="586" cy="784.1" r="1.6"/><text transform="translate(592,782.6) rotate(-90)">2016-11-21T09:01:00Z 2016-11-21</text></g>
<g id="n7-20"><circle cx="597.5" cy="784.1" r="1.6"/><text transform="translate(603.5,782.6) rotate(-90)">2016-12-13T13:34:00Z 2016-12-13</text></g>
<g id="n7-21"><circle cx="627.5" cy="784.1" r="1.6"/><text transform="translate(633.5,782.6) rotate(-90)">2017-02-16T12:25:00Z 2017-02-16</text></g>
<g id="n7-22"><circle cx="643" cy="784.1" r="1.6"/><text transform="translate(649,782.6) rotate(-90)">2017-03-24T11:28:00Z 2017-03-24</text></g>
<g id="n7-23"><circle cx="647" cy="784.1" r="1.6"/><text transform="translate(653,782.6) rotate(-90)">2017-04-02T13:22:00Z 2017-04-02</text></g>
<g id="n7-24"><circle cx="672.6" cy="784.1" r="1.6"/><text transform="translate(678.6,782.6) rotate(-90)">2017-05-17T17:01:00Z 2017-05-17</text></g>
<g id="n7-25"><circle cx="711.7" cy="784.1" r="1.6"/><text class="mid" transform="translate(717.7,784.1) rotate(-90)">2017-08-07T21:30:00Z 2017-08-07</text></g>
</g>
<g id="axis">
<line x1="0" y1="877" x2="718" y2="877" stroke="#666" stroke-width="2"/>
<text class="yr" x="76" y="897">2014</text>
<text class="yr" x="255" y="897">2015</text>
<text class="yr" x="434" y="897">2016</text>
<text class="yr" x="612" y="897">2017</text>
</g>
<g id="bands" opacity="0.5">
<rect x="106" y="0" width="26.3" height="907" fill="#d23434"/>
<rect x="574.3" y="0" width="105.7" height="907" fill="#5d89c9"/>
<rect x="680" y="0" width="33" height="907" fill="#d23434"/>
</g>
<line x1="121" y1="431" x2="137" y2="431" stroke="#3d5ea6" stroke-width="1.2"/>
</svg>
